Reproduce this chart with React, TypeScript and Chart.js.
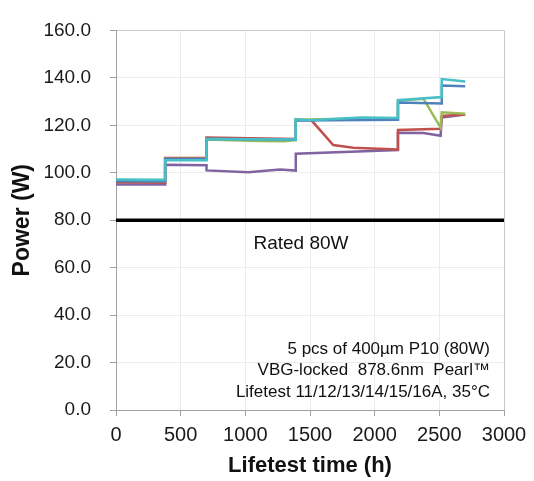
import React, { useEffect, useRef } from 'react';
import { Chart, registerables } from 'chart.js';

Chart.register(...registerables);

// ---- data ----
const cyanHours = [0, 380, 380, 700, 700, 1390, 1390, 1500, 1900, 2180, 2180, 2519, 2519, 2700];
const cyanPower = [97.2, 97.0, 105.3, 105.3, 114.2, 114.0, 122.5, 122.1, 123.3, 123.1, 130.6, 131.9, 139.5, 138.5];

const blueHours = [0, 380, 380, 700, 700, 1390, 1390, 2180, 2180, 2519, 2519, 2700];
const bluePower = [96.5, 96.3, 105.8, 105.8, 114.3, 113.9, 122.0, 122.3, 129.6, 129.2, 136.8, 136.5];

const greenHours = [0, 380, 380, 700, 700, 1100, 1300, 1390, 1390, 1900, 2180, 2180, 2377, 2510, 2519, 2700];
const greenPower = [96.6, 96.4, 105.8, 105.8, 114.0, 113.4, 113.3, 113.8, 122.3, 122.9, 122.6, 130.3, 131.2, 119.0, 125.5, 124.9];

const redHours = [0, 380, 380, 700, 700, 1390, 1390, 1513, 1680, 1835, 2180, 2180, 2510, 2519, 2700];
const redPower = [96.0, 95.8, 106.2, 106.2, 114.8, 114.2, 122.3, 122.0, 111.7, 110.5, 109.8, 118.0, 118.5, 124.0, 124.6];

const purpleHours = [0, 380, 380, 700, 700, 1023, 1268, 1390, 1390, 2180, 2180, 2377, 2510, 2519, 2700];
const purplePower = [95.0, 95.0, 103.4, 103.2, 101.0, 100.2, 101.4, 100.9, 108.0, 109.6, 116.9, 116.8, 115.6, 123.3, 124.5];

const ratedHours = [0, 3000];
const ratedPower = [80, 80];

const xTickValues = [0, 500, 1000, 1500, 2000, 2500, 3000];
const yTickValues = [0, 20, 40, 60, 80, 100, 120, 140, 160];

const ratedLabel = 'Rated 80W';
const noteLines = [
  '5 pcs of 400µm P10 (80W)',
  'VBG-locked  878.6nm  Pearl™',
  'Lifetest 11/12/13/14/15/16A, 35°C',
];
const xTitle = 'Lifetest time (h)';
const yTitle = 'Power (W)';

const FONT = '"Liberation Sans", Arial, sans-serif';

const toPoints = (xs: number[], ys: number[]) => xs.map((x, i) => ({ x, y: ys[i] }));

const textPlugin = {
  id: 'notes',
  afterDraw(chart: any) {
    const { ctx, chartArea, scales } = chart;
    ctx.save();
    ctx.fillStyle = '#111';
    ctx.textBaseline = 'alphabetic';
    // Rated label
    ctx.font = `19px ${FONT}`;
    ctx.textAlign = 'center';
    const ry = scales.y.getPixelForValue(80);
    ctx.fillText(ratedLabel, (chartArea.left + chartArea.right) / 2 - 9, ry + 29);
    // note block
    ctx.font = `17px ${FONT}`;
    ctx.textAlign = 'right';
    const x = chartArea.right - 14;
    const base = [chartArea.bottom - 56, chartArea.bottom - 35, chartArea.bottom - 13];
    noteLines.forEach((t, i) => ctx.fillText(t, x, base[i]));
    ctx.restore();
  },
};

export default function App() {
  const ref = useRef<HTMLCanvasElement | null>(null);
  useEffect(() => {
    document.body.style.margin = '0';
    const canvas = ref.current;
    if (!canvas) return;
    const mk = (label: string, xs: number[], ys: number[], color: string, w: number) => ({
      label,
      data: toPoints(xs, ys),
      borderColor: color,
      backgroundColor: color,
      borderWidth: w,
      pointRadius: 0,
      tension: 0,
      fill: false,
    });
    const chart = new Chart(canvas, {
      type: 'line',
      data: {
        datasets: [
          mk('cyan', cyanHours, cyanPower, '#46BFC6', 2.5),
          mk('blue', blueHours, bluePower, '#4F81BD', 2.5),
          mk('green', greenHours, greenPower, '#9BBB59', 2.5),
          mk('red', redHours, redPower, '#C0504D', 2.5),
          mk('purple', purpleHours, purplePower, '#8064A2', 2.5),
          mk('rated', ratedHours, ratedPower, '#000000', 3.5),
        ],
      },
      options: {
        responsive: false,
        animation: false,
        layout: { padding: { left: 0, top: 20, right: 30, bottom: 0 } },
        plugins: { legend: { display: false }, tooltip: { enabled: false } },
        scales: {
          x: {
            type: 'linear',
            min: 0,
            max: 3000,
            afterFit: (s: any) => { s.height = 71; },
            afterBuildTicks: (s: any) => { s.ticks = xTickValues.map((v) => ({ value: v })); },
            ticks: {
              callback: (v: any) => String(v),
              font: { family: FONT, size: 20 },
              color: '#1a1a1a',
              padding: 7,
              maxRotation: 0,
            },
            grid: {
              color: (c: any) => (c.tick && c.tick.value === 3000 ? '#c8c8c8' : '#ececec'),
              tickColor: '#a0a0a0',
              tickLength: 6,
            },
            border: { color: '#a0a0a0', width: 1 },
            title: {
              display: true,
              text: xTitle,
              font: { family: FONT, size: 22, weight: 'bold' },
              color: '#111',
              padding: { top: 0, bottom: 2 },
            },
          },
          y: {
            type: 'linear',
            min: 0,
            max: 160,
            afterFit: (s: any) => { s.width = 116; },
            afterBuildTicks: (s: any) => { s.ticks = yTickValues.map((v) => ({ value: v })); },
            ticks: {
              callback: (v: any) => Number(v).toFixed(1),
              font: { family: FONT, size: 19 },
              color: '#1a1a1a',
              padding: 19,
            },
            grid: {
              color: (c: any) => (c.tick && c.tick.value === 160 ? '#c8c8c8' : '#ececec'),
              tickColor: '#a0a0a0',
              tickLength: 6,
            },
            border: { color: '#a0a0a0', width: 1 },
            title: {
              display: true,
              text: yTitle,
              font: { family: FONT, size: 23, weight: 'bold' },
              color: '#111',
              padding: { top: 9, bottom: 0 },
            },
          },
        },
      },
      plugins: [textPlugin],
    });
    return () => chart.destroy();
  }, []);
  return <canvas ref={ref} width={534} height={481} style={{ display: 'block' }} />;
}
